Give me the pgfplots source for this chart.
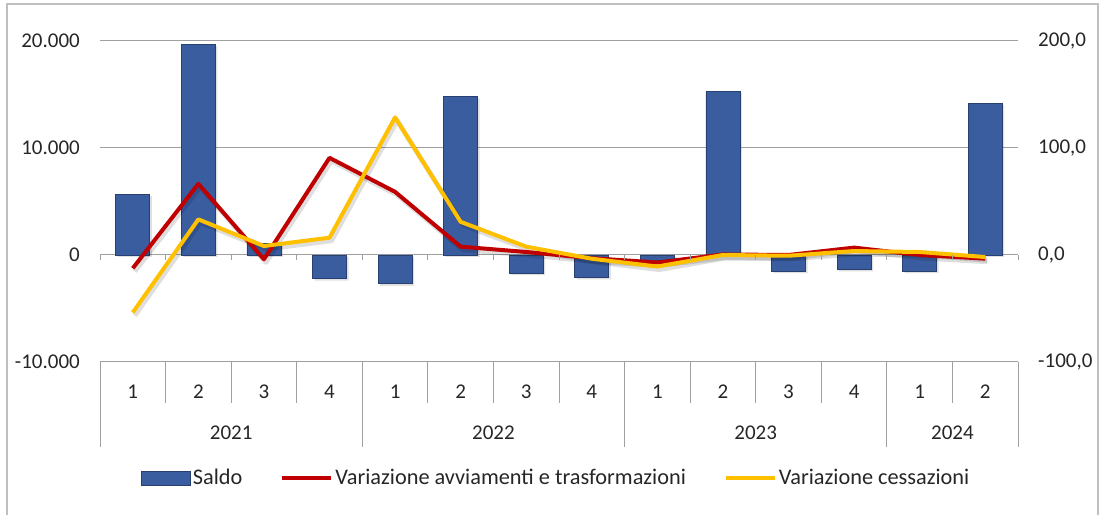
\documentclass[border=0pt]{standalone}
\usepackage{pgfplots}
\pgfplotsset{compat=1.18}
\usepackage{fontspec}
\setmainfont{Carlito}
\definecolor{barblue}{HTML}{3A5DA0}
\definecolor{baredge}{HTML}{27406F}
\definecolor{linered}{HTML}{C00000}
\definecolor{lineyel}{HTML}{FFC000}
\definecolor{gridgray}{HTML}{A0A0A0}
\definecolor{txt}{HTML}{262626}
\begin{document}
\fontsize{21bp}{25bp}\selectfont
\begin{tikzpicture}
\useasboundingbox (0,0) rectangle (1103bp,515bp);
\draw[gray!50, line width=1.5bp] (7bp,-5bp) rectangle (1098bp,511bp);

\begin{axis}[
  at={(100bp,153bp)}, anchor=south west,
  scale only axis, width=918bp, height=321bp,
  xmin=-0.5, xmax=13.5, ymin=-10000, ymax=20000,
  scaled y ticks=false,
  axis line style={draw=none},
  ytick={-10000,0,10000,20000},
  yticklabels={-10.000,0,10.000,20.000},
  ymajorgrids, grid style={gridgray, line width=1bp},
  tick style={draw=none},
  xtick={0,...,13},
  xticklabels={1,2,3,4,1,2,3,4,1,2,3,4,1,2},
  xticklabel style={anchor=center, yshift=-30bp},
  yticklabel style={anchor=east, xshift=-13bp},
  ticklabel style={font=\fontsize{21bp}{25bp}\selectfont, text=txt},
  clip=false,
]
\addplot[ybar, bar width=34bp, fill=black, opacity=0.12, draw=none, xshift=2bp, yshift=-2bp, forget plot]
  coordinates {(0,5700) (1,19700) (2,1100) (3,-2200) (4,-2700) (5,14800) (6,-1700)
               (7,-2100) (8,-550) (9,15300) (10,-1500) (11,-1350) (12,-1500) (13,14200)};
\addplot[ybar, bar width=34bp, fill=barblue, draw=baredge, line width=0.8bp]
  coordinates {(0,5700) (1,19700) (2,1100) (3,-2200) (4,-2700) (5,14800) (6,-1700)
               (7,-2100) (8,-550) (9,15300) (10,-1500) (11,-1350) (12,-1500) (13,14200)};
\end{axis}

\begin{axis}[
  at={(100bp,153bp)}, anchor=south west,
  scale only axis, width=918bp, height=321bp,
  xmin=-0.5, xmax=13.5, ymin=-100, ymax=200,
  axis x line=none,
  axis y line*=right,
  axis line style={draw=none},
  ytick={-100,0,100,200},
  yticklabels={{-100,0},{0,0},{100,0},{200,0}},
  tick style={draw=none},
  yticklabel style={anchor=west, xshift=13bp, font=\fontsize{21bp}{25bp}\selectfont, text=txt},
  clip=false,
  legend columns=3,
  legend style={at={(0.497,-0.3614)}, anchor=center, draw=none, fill=none,
    font=\fontsize{22.3bp}{26bp}\selectfont, text=txt,
    nodes={inner xsep=2bp},
    /tikz/every even column/.append style={column sep=36bp}},
  legend cell align=left,
]
\addlegendimage{legend image code/.code={\fill[barblue, draw=baredge, line width=0.8bp] (0bp,-7bp) rectangle (49bp,7bp);}}
\addlegendentry{Saldo}
\addplot[black, opacity=0.13, line width=5bp, line join=round, xshift=2bp, yshift=-3bp, forget plot]
  coordinates {(0,-12.4) (1,66.5) (2,-4) (3,90.8) (4,59) (5,7.8) (6,2.8)
               (7,-3) (8,-7) (9,0.5) (10,0) (11,6.9) (12,0) (13,-3.4)};
\addplot[black, opacity=0.13, line width=5bp, line join=round, xshift=2bp, yshift=-3bp, forget plot]
  coordinates {(0,-53.7) (1,33.3) (2,8.4) (3,16.2) (4,128.6) (5,31) (6,7.8)
               (7,-3.5) (8,-10.8) (9,0) (10,-0.7) (11,3.7) (12,2.8) (13,-1.9)};
\addplot[linered, line width=4bp, line join=round,
  legend image code/.code={\draw[linered, line width=4bp] (0bp,0bp) -- (49bp,0bp);}]
  coordinates {(0,-12.4) (1,66.5) (2,-4) (3,90.8) (4,59) (5,7.8) (6,2.8)
               (7,-3) (8,-7) (9,0.5) (10,0) (11,6.9) (12,0) (13,-3.4)};
\addlegendentry{Variazione avviamenti e trasformazioni}
\addplot[lineyel, line width=4bp, line join=round,
  legend image code/.code={\draw[lineyel, line width=4bp] (0bp,0bp) -- (49bp,0bp);}]
  coordinates {(0,-53.7) (1,33.3) (2,8.4) (3,16.2) (4,128.6) (5,31) (6,7.8)
               (7,-3.5) (8,-10.8) (9,0) (10,-0.7) (11,3.7) (12,2.8) (13,-1.9)};
\addlegendentry{Variazione cessazioni}
\end{axis}

% zero-line tick marks and category table
\foreach \i in {0,...,14} {
  \draw[gridgray, line width=1bp] (100bp+\i*65.5714bp,260bp) -- ++(0,-5bp);
  \draw[gridgray, line width=1bp] (100bp+\i*65.5714bp,153bp) -- ++(0,-41bp);
}
\foreach \i in {0,4,8,12,14} {
  \draw[gridgray, line width=1bp] (100bp+\i*65.5714bp,153bp) -- (100bp+\i*65.5714bp,68bp);
}
\node[text=txt] at (100bp+2*65.5714bp,82bp) {2021};
\node[text=txt] at (100bp+6*65.5714bp,82bp) {2022};
\node[text=txt] at (100bp+10*65.5714bp,82bp) {2023};
\node[text=txt] at (100bp+13*65.5714bp,82bp) {2024};
\end{tikzpicture}
\end{document}
